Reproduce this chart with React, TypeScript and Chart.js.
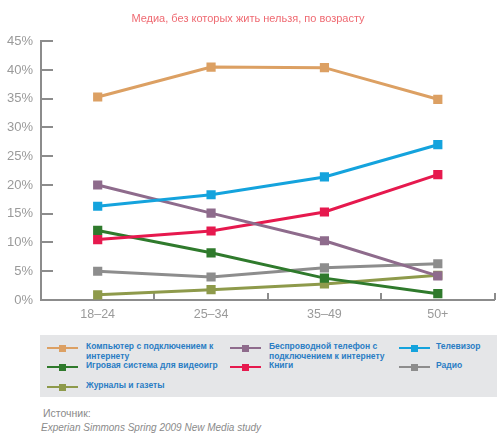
import React, { useEffect, useRef } from "react";
import { Chart, registerables } from "chart.js";

Chart.register(...registerables);

const TITLE = "Медиа, без которых жить нельзя, по возрасту";
const categories = ["18–24", "25–34", "35–49", "50+"];
const yTicks = [0, 5, 10, 15, 20, 25, 30, 35, 40, 45];

const seriesNames = [
  "Компьютер с подключением к\nинтернету",
  "Беспроводной телефон с\nподключением к интернету",
  "Телевизор",
  "Игровая система для видеоигр",
  "Книги",
  "Радио",
  "Журналы и газеты",
];
const seriesColors = ["#dca063", "#8e6b8c", "#14a3dd", "#2f7a2c", "#e6194e", "#8d8d8d", "#8e9a4b"];

const computer = [35.3, 40.5, 40.4, 34.9];
const wireless = [20.0, 15.1, 10.3, 4.2];
const tv = [16.3, 18.3, 21.4, 27.0];
const gaming = [12.1, 8.2, 3.8, 1.1];
const books = [10.5, 12.0, 15.3, 21.8];
const radio = [5.0, 4.0, 5.6, 6.3];
const magazines = [0.9, 1.8, 2.8, 4.3];
const seriesValues = [computer, wireless, tv, gaming, books, radio, magazines];
const drawOrder = [1, 3, 2, 5, 4, 6, 7];

const AXIS = "#8c8c8c";
const LABEL = "#9a9a9a";

const tickMarks = {
  id: "tickMarks",
  beforeDatasetsDraw(chart: any) {
    const { ctx, chartArea } = chart;
    const x = chart.scales.x;
    const y = chart.scales.y;
    ctx.save();
    ctx.strokeStyle = AXIS;
    ctx.lineWidth = 2;
    ctx.beginPath();
    for (const t of y.ticks) {
      const py = Math.round(y.getPixelForValue(t.value));
      ctx.moveTo(chartArea.left, py);
      ctx.lineTo(chartArea.left + 12, py);
    }
    const n = x.ticks.length;
    for (let i = 1; i <= n; i++) {
      const px = Math.round(x.getPixelForValue(i - 0.5));
      ctx.moveTo(px, chartArea.bottom);
      ctx.lineTo(px, chartArea.bottom - 7);
    }
    ctx.stroke();
    ctx.restore();
  },
};

const legendCols = [
  { line: 47, text: 86 },
  { line: 230, text: 269 },
  { line: 399, text: 436 },
];
const legendRows = [348, 367, 387];

export default function App() {
  const ref = useRef<HTMLCanvasElement | null>(null);

  useEffect(() => {
    if (!ref.current) return;
    const chart = new Chart(ref.current, {
      type: "line",
      data: {
        labels: categories,
        datasets: seriesValues.map((vals, i) => ({
          label: seriesNames[i],
          data: vals,
          borderColor: seriesColors[i],
          backgroundColor: seriesColors[i],
          pointBackgroundColor: seriesColors[i],
          pointBorderWidth: 0,
          pointStyle: "rect",
          pointRadius: 6.5,
          borderWidth: 3,
          tension: 0,
          order: drawOrder[i],
        })),
      },
      options: {
        animation: false,
        responsive: false,
        devicePixelRatio: 1,
        layout: { padding: { left: 0, right: 5, top: 0, bottom: 0 } },
        plugins: {
          legend: { display: false },
          tooltip: { enabled: false },
          title: {
            display: true,
            text: TITLE,
            color: "#ef6a72",
            font: { family: "Liberation Sans", size: 11, weight: "normal" },
            padding: { top: 12, bottom: 16 },
          },
        },
        scales: {
          x: {
            type: "category",
            offset: true,
            grid: { display: false, drawTicks: false },
            border: { display: true, color: AXIS, width: 2 },
            ticks: {
              color: LABEL,
              padding: 7,
              font: { family: "Liberation Sans", size: 12.5 },
            },
            afterFit: (s: any) => {
              s.height = 30;
            },
          },
          y: {
            min: 0,
            max: 45,
            afterBuildTicks: (s: any) => {
              s.ticks = yTicks.map((v) => ({ value: v }));
            },
            grid: { display: false, drawTicks: false },
            border: { display: true, color: AXIS, width: 2 },
            ticks: {
              color: LABEL,
              padding: 8,
              font: { family: "Liberation Sans", size: 13 },
              callback: (v: any) => v + "%",
            },
            afterFit: (s: any) => {
              s.width = 41;
            },
          },
        },
      },
      plugins: [tickMarks],
    });
    return () => chart.destroy();
  }, []);

  return (
    <div style={{ position: "absolute", left: 0, top: 0, width: 501, height: 438, background: "#fff", fontFamily: "Liberation Sans" }}>
      <canvas ref={ref} width={501} height={330} style={{ position: "absolute", left: 0, top: 0 }} />
      <div style={{ position: "absolute", left: 40, top: 335, width: 457, height: 62, background: "#e5e6e8" }} />
      {seriesNames.map((name, i) => {
        const col = legendCols[i % 3];
        const cy = legendRows[Math.floor(i / 3)];
        const c = seriesColors[i];
        return (
          <React.Fragment key={i}>
            <div style={{ position: "absolute", left: col.line, top: cy - 1, width: 31, height: 2, background: c }} />
            <div style={{ position: "absolute", left: col.line + 12, top: cy - 3.5, width: 7, height: 7, background: c }} />
            <div
              style={{
                position: "absolute",
                left: col.text,
                top: cy - 6,
                whiteSpace: "pre",
                fontSize: 8.5,
                lineHeight: "9.5px",
                fontWeight: "bold",
                color: "#2a7dc4",
              }}
            >
              {name}
            </div>
          </React.Fragment>
        );
      })}
      <div style={{ position: "absolute", left: 43, top: 407, fontSize: 10.5, lineHeight: "12px", color: "#8a8a8a" }}>Источник:</div>
      <div style={{ position: "absolute", left: 41, top: 422, fontSize: 10, lineHeight: "12px", color: "#8a8a8a", fontStyle: "italic" }}>
        Experian Simmons Spring 2009 New Media study
      </div>
    </div>
  );
}
